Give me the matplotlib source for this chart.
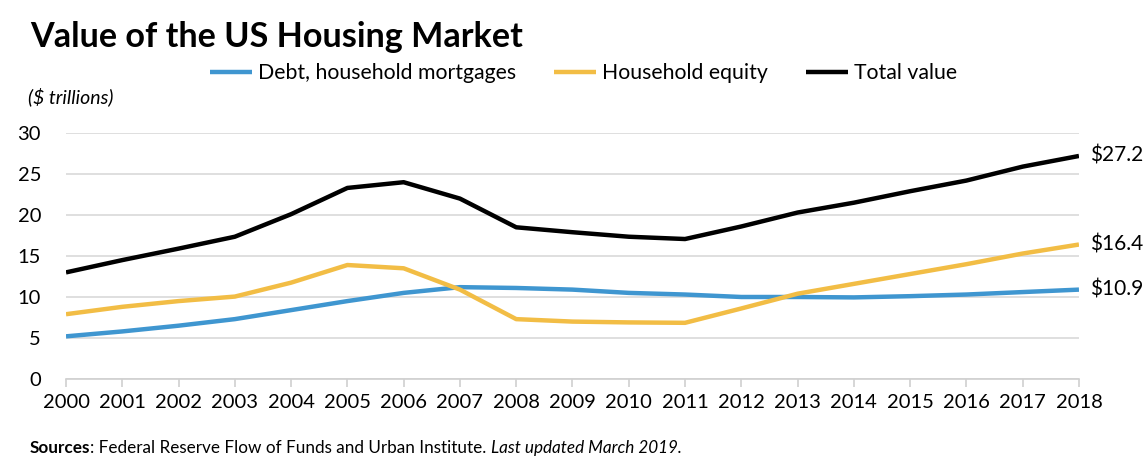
import numpy as np
import matplotlib.pyplot as plt

years = list(range(2000, 2019))

debt = [5.2, 5.8, 6.5, 7.3, 8.4, 9.5, 10.5, 11.2, 11.1, 10.9, 10.5, 10.3, 10.0, 10.0, 9.95, 10.1, 10.3, 10.6, 10.9]
equity = [7.9, 8.8, 9.5, 10.05, 11.75, 13.9, 13.5, 10.9, 7.3, 7.0, 6.9, 6.85, 8.6, 10.4, 11.6, 12.8, 14.0, 15.3, 16.4]
total = [13.0, 14.5, 15.9, 17.35, 20.1, 23.3, 24.0, 22.0, 18.5, 17.9, 17.35, 17.07, 18.6, 20.3, 21.5, 22.9, 24.2, 25.9, 27.2]

names = ["Debt, household mortgages", "Household equity", "Total value"]
colors = ["#3f96d0", "#f2bd45", "#000000"]

plt.rcParams['font.family'] = ['Lato', 'DejaVu Sans']

fig = plt.figure(figsize=(11.46, 4.68), dpi=100)
ax = fig.add_axes([0.0576, 0.1902, 0.9415 - 0.0576, 0.7158 - 0.1902])

handles = []
for vals, name, col in zip([debt, equity, total], names, colors):
    h, = ax.plot(years, vals, color=col, lw=3.2, label=name, solid_capstyle='butt', zorder=3)
    handles.append(h)
    # Endwert rechts neben der Linie
    ax.text(years[-1] + 0.2, vals[-1], f"${vals[-1]:.1f}", va='center', ha='left',
            fontsize=15, clip_on=False)

ax.set_xlim(2000, 2018)
ax.set_ylim(0, 30)
ax.set_yticks(range(0, 31, 5))
ax.set_xticks(years)
ax.grid(axis='y', color='#d9d9d9', lw=1.2, zorder=0)
for s in ['top', 'right', 'left']:
    ax.spines[s].set_visible(False)
ax.spines['bottom'].set_color('#d0d0d0')
ax.spines['bottom'].set_linewidth(1.2)
ax.tick_params(axis='y', length=0, pad=18, labelsize=14.5)
ax.tick_params(axis='x', length=6, color='#d0d0d0', width=1.2, pad=5, labelsize=14.5)

fig.text(0.026, 0.9, "Value of the US Housing Market", fontsize=24.6, fontweight='bold', ha='left', va='baseline')
fig.text(0.024, 0.793, "($ trillions)", fontsize=14, style='italic', ha='left', va='center')

fig.legend(handles=handles, labels=names, loc='center', bbox_to_anchor=(0.509, 0.844), ncol=3,
           frameon=False, fontsize=15.3, handlelength=2.0, handletextpad=0.25, columnspacing=1.8)

# Quellenzeile aus drei Teilen (fett, normal, kursiv)
y_src = 0.043
t1 = fig.text(0.026, y_src, "Sources", fontsize=12.3, fontweight='bold', ha='left', va='center')
fig.canvas.draw()
x1 = t1.get_window_extent().x1 / fig.bbox.width
t2 = fig.text(x1, y_src, ": Federal Reserve Flow of Funds and Urban Institute. ", fontsize=12.3, ha='left', va='center')
fig.canvas.draw()
x2 = t2.get_window_extent().x1 / fig.bbox.width
fig.text(x2, y_src, "Last updated March 2019.", fontsize=12.3, style='italic', ha='left', va='center')

fig.savefig("out.png", dpi=100)
